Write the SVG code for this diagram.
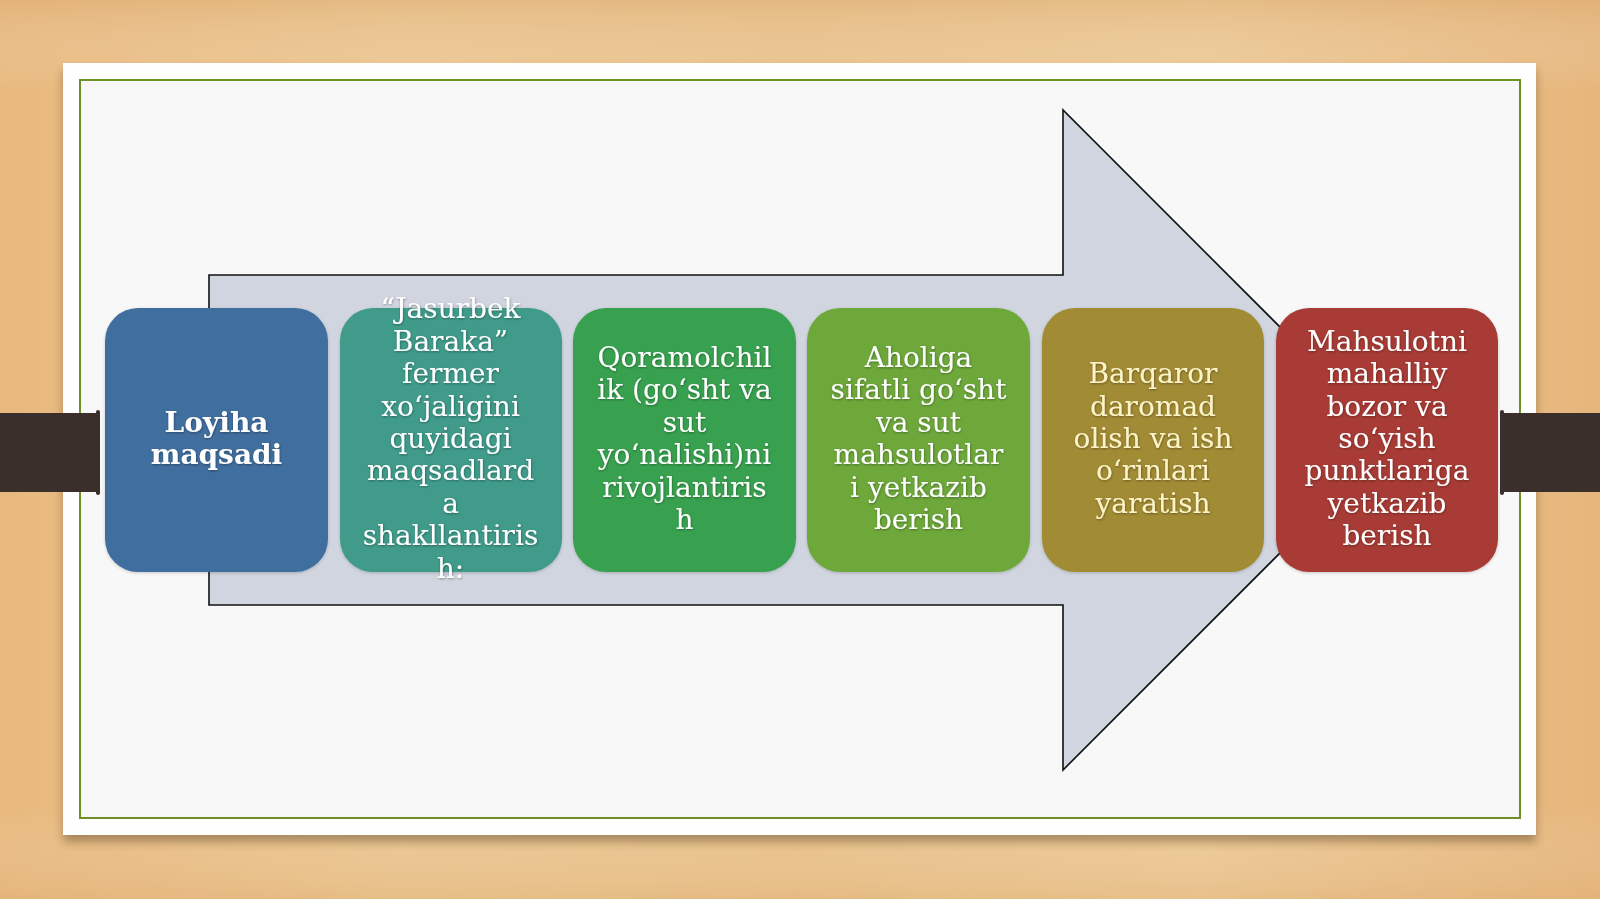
<svg xmlns="http://www.w3.org/2000/svg" width="1600" height="899" viewBox="0 0 1600 899">
  <defs>
    <linearGradient id="wood" x1="0" y1="0" x2="1" y2="0">
      <stop offset="0" stop-color="#e8b97e"/>
      <stop offset="0.25" stop-color="#ebc58e"/>
      <stop offset="0.5" stop-color="#e9c189"/>
      <stop offset="0.75" stop-color="#ecc893"/>
      <stop offset="1" stop-color="#e6b67c"/>
    </linearGradient>
    <linearGradient id="woodV" x1="0" y1="0" x2="0" y2="1">
      <stop offset="0" stop-color="#d9a86e" stop-opacity="0.35"/>
      <stop offset="0.1" stop-color="#ffffff" stop-opacity="0"/>
      <stop offset="0.9" stop-color="#ffffff" stop-opacity="0"/>
      <stop offset="1" stop-color="#d9a86e" stop-opacity="0.25"/>
    </linearGradient>
    <filter id="cardShadow" x="-5%" y="-5%" width="110%" height="115%">
      <feDropShadow dx="0" dy="7" stdDeviation="5" flood-color="#5a4020" flood-opacity="0.45"/>
    </filter>
    <filter id="boxShadow" x="-10%" y="-10%" width="120%" height="120%">
      <feDropShadow dx="0" dy="1" stdDeviation="1.5" flood-color="#000000" flood-opacity="0.2"/>
    </filter>
    <filter id="txtShadow" x="-10%" y="-10%" width="120%" height="120%">
      <feDropShadow dx="0.5" dy="1" stdDeviation="1" flood-color="#000000" flood-opacity="0.35"/>
    </filter>
  </defs>
  <style>
    .box { filter: url(#boxShadow); }
    .lbl { font-family: "DejaVu Serif", "Liberation Serif", serif; font-size: 28px; fill: #ffffff; text-anchor: middle; filter: url(#txtShadow); }
    .bold { font-weight: bold; }
    .bar { fill: #3b2f2b; }
  </style>

  <!-- background -->
  <rect x="0" y="0" width="1600" height="899" fill="url(#wood)"/>
  <rect x="0" y="0" width="1600" height="899" fill="url(#woodV)"/>

  <!-- card -->
  <rect x="63" y="63" width="1473" height="772" fill="#fefefe" filter="url(#cardShadow)"/>
  <rect x="80" y="80" width="1440" height="738" fill="#f8f8f8" stroke="#6f8f28" stroke-width="2"/>

  <!-- side bars -->
  <rect class="bar" x="0" y="413" width="98" height="79"/>
  <rect class="bar" x="96" y="410" width="4" height="85" rx="2"/>
  <rect class="bar" x="1502" y="413" width="98" height="79"/>
  <rect class="bar" x="1500" y="410" width="4" height="85" rx="2"/>

  <!-- big arrow -->
  <g id="connectors">
    <path d="M209,275 L1063,275 L1063,110 L1393,440 L1063,770 L1063,605 L209,605 Z" fill="#d0d5df" stroke="#111111" stroke-width="1.6" stroke-linejoin="miter"/>
  </g>

  <g id="node1">
    <rect class="box" x="105" y="308" width="223" height="264" rx="33" fill="#3f6e9e"/>
    <text class="lbl bold" x="216.5" y="432"><tspan x="216.5">Loyiha</tspan><tspan x="216.5" dy="32.4">maqsadi</tspan></text>
  </g>

  <g id="node2">
    <rect class="box" x="340" y="308" width="222" height="264" rx="33" fill="#3f9b8a"/>
    <text class="lbl" x="450.5" y="318.4"><tspan x="450.5">“Jasurbek</tspan><tspan x="450.5" dy="32.4">Baraka”</tspan><tspan x="450.5" dy="32.4">fermer</tspan><tspan x="450.5" dy="32.4">xo‘jaligini</tspan><tspan x="450.5" dy="32.4">quyidagi</tspan><tspan x="450.5" dy="32.4">maqsadlard</tspan><tspan x="450.5" dy="32.4">a</tspan><tspan x="450.5" dy="32.4">shakllantiris</tspan><tspan x="450.5" dy="32.4">h:</tspan></text>
  </g>

  <g id="node3">
    <rect class="box" x="573" y="308" width="223" height="264" rx="33" fill="#38a14f"/>
    <text class="lbl" x="684.5" y="367"><tspan x="684.5">Qoramolchil</tspan><tspan x="684.5" dy="32.4">ik (go‘sht va</tspan><tspan x="684.5" dy="32.4">sut</tspan><tspan x="684.5" dy="32.4">yo‘nalishi)ni</tspan><tspan x="684.5" dy="32.4">rivojlantiris</tspan><tspan x="684.5" dy="32.4">h</tspan></text>
  </g>

  <g id="node4">
    <rect class="box" x="807" y="308" width="223" height="264" rx="33" fill="#6ea83b"/>
    <text class="lbl" x="918.5" y="367"><tspan x="918.5">Aholiga</tspan><tspan x="918.5" dy="32.4">sifatli go‘sht</tspan><tspan x="918.5" dy="32.4">va sut</tspan><tspan x="918.5" dy="32.4">mahsulotlar</tspan><tspan x="918.5" dy="32.4">i yetkazib</tspan><tspan x="918.5" dy="32.4">berish</tspan></text>
  </g>

  <g id="node5">
    <rect class="box" x="1042" y="308" width="222" height="264" rx="33" fill="#a18b34"/>
    <text class="lbl" x="1153" y="383.2" style="fill:#fcf4c8"><tspan x="1153">Barqaror</tspan><tspan x="1153" dy="32.4">daromad</tspan><tspan x="1153" dy="32.4">olish va ish</tspan><tspan x="1153" dy="32.4">o‘rinlari</tspan><tspan x="1153" dy="32.4">yaratish</tspan></text>
  </g>

  <g id="node6">
    <rect class="box" x="1276" y="308" width="222" height="264" rx="33" fill="#a83a36"/>
    <text class="lbl" x="1387" y="350.8"><tspan x="1387">Mahsulotni</tspan><tspan x="1387" dy="32.4">mahalliy</tspan><tspan x="1387" dy="32.4">bozor va</tspan><tspan x="1387" dy="32.4">so‘yish</tspan><tspan x="1387" dy="32.4">punktlariga</tspan><tspan x="1387" dy="32.4">yetkazib</tspan><tspan x="1387" dy="32.4">berish</tspan></text>
  </g>
</svg>
